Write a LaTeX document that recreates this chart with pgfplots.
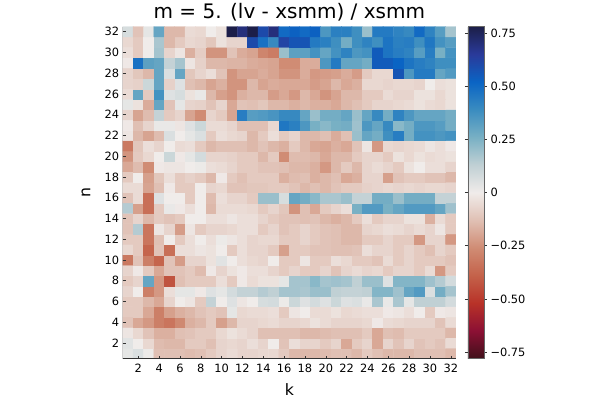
\documentclass[border=0pt]{standalone}
\usepackage{pgfplots}
\pgfplotsset{compat=1.18}
\usepackage{fontspec}
\setmainfont{DejaVu Sans}
\pgfplotsset{colormap={balance}{rgb255=(64,16,26) rgb255=(140,16,52) rgb255=(184,50,40) rgb255=(196,98,74) rgb255=(208,140,116) rgb255=(224,192,180) rgb255=(240,236,234) rgb255=(192,208,212) rgb255=(120,176,196) rgb255=(58,140,192) rgb255=(10,100,196) rgb255=(42,58,154) rgb255=(28,30,72)}}
\begin{document}
\begin{tikzpicture}
\useasboundingbox (-122.7pt,-41.5pt) rectangle (477.3pt,358.5pt);
\begin{axis}[
  at={(0pt,0pt)}, anchor=south west,
  scale only axis, width=333.3pt, height=332pt,
  xmin=0.5, xmax=32.5, ymin=0.5, ymax=32.5,
  axis on top,
  axis line style={draw=none},
  tick pos=left,
  tick align=inside, major tick length=3pt,
  tick style={draw=black!80, line width=0.5pt},
  xtick={2,4,...,32}, ytick={2,4,...,32},
  /pgf/number format/assume math mode=true,
  ticklabel style={font=\fontsize{11.4}{13}\selectfont},
  xticklabel style={yshift=-2pt},
  xlabel={k}, ylabel={n},
  label style={font=\fontsize{15.7}{18}\selectfont},
  xlabel style={at={(axis description cs:0.5,0)}, anchor=center, yshift=-31pt},
  ylabel style={at={(axis description cs:0,0.5)}, anchor=center, yshift=36.7pt},
  title={m = 5. (lv - xsmm) / xsmm},
  title style={font=\fontsize{20}{24}\selectfont, at={(axis description cs:0.5,1)}, anchor=base, yshift=2.5pt},
  colormap name=balance,
  point meta min=-0.78, point meta max=0.78,
  colorbar,
  colorbar/width=16pt,
  colorbar shift/.style={xshift=12pt},
  colorbar style={
    at={(parent axis.south east)}, anchor=south west,
    scale only axis, width=16pt, height=332pt,
    ytick={-0.75,-0.5,-0.25,0,0.25,0.5,0.75},
    yticklabels={−0.75,−0.50,−0.25,0,0.25,0.50,0.75},
    tick align=outside, major tick length=3pt,
    yticklabel style={font=\fontsize{11.4}{13}\selectfont},
    axis line style={draw=black!60, line width=0.5pt},
  },
]
\addplot[matrix plot*, mesh/cols=32, mesh/ordering=x varies, point meta=explicit]
table[header=false, row sep=\\, x expr={\coordindex-32*floor((\coordindex+0.5)/32)+1}, y expr={floor((\coordindex+0.5)/32)+1}, meta index=0] {
0.03\\ 0.06\\ 0.01\\ -0.13\\ -0.13\\ -0.13\\ -0.14\\ -0.13\\ -0.10\\ -0.07\\ -0.05\\ -0.07\\ -0.07\\ -0.06\\ -0.06\\ -0.10\\ -0.15\\ -0.15\\ -0.15\\ -0.14\\ -0.13\\ -0.13\\ -0.15\\ -0.10\\ -0.13\\ -0.15\\ -0.15\\ -0.15\\ -0.13\\ -0.13\\ -0.13\\ -0.15\\
0.04\\ 0\\ -0.06\\ -0.14\\ -0.15\\ -0.15\\ -0.10\\ -0.10\\ -0.13\\ -0.07\\ -0.06\\ -0.07\\ -0.04\\ -0.07\\ 0\\ -0.12\\ -0.04\\ -0.07\\ -0.07\\ -0.10\\ -0.07\\ -0.19\\ -0.10\\ -0.07\\ -0.19\\ -0.07\\ -0.12\\ -0.07\\ -0.12\\ -0.10\\ -0.12\\ -0.05\\
-0.02\\ -0.06\\ -0.12\\ -0.17\\ -0.17\\ -0.13\\ -0.12\\ -0.10\\ -0.10\\ -0.06\\ -0.03\\ -0.05\\ -0.07\\ -0.13\\ -0.13\\ -0.13\\ -0.13\\ -0.15\\ -0.15\\ -0.14\\ -0.13\\ -0.13\\ -0.13\\ -0.10\\ -0.19\\ -0.13\\ -0.14\\ -0.10\\ -0.10\\ -0.10\\ -0.10\\ -0.15\\
-0.12\\ -0.19\\ -0.23\\ -0.30\\ -0.33\\ -0.27\\ -0.17\\ -0.15\\ -0.10\\ -0.21\\ -0.15\\ -0.07\\ -0.07\\ -0.06\\ -0.05\\ -0.07\\ -0.07\\ -0.06\\ -0.03\\ -0.05\\ -0.07\\ -0.07\\ -0.07\\ -0.06\\ -0.01\\ -0.05\\ -0.06\\ -0.07\\ -0.07\\ -0.07\\ -0.12\\ -0.05\\
-0.10\\ -0.10\\ -0.19\\ -0.30\\ -0.21\\ -0.17\\ -0.15\\ -0.12\\ -0.10\\ -0.12\\ 0.03\\ -0.06\\ -0.05\\ -0.05\\ -0.04\\ -0.10\\ -0.02\\ 0\\ -0.05\\ -0.05\\ -0.03\\ -0.06\\ -0.05\\ -0.04\\ -0.04\\ -0.01\\ -0.02\\ -0.04\\ 0\\ -0.10\\ -0.01\\ -0.02\\
-0.10\\ -0.10\\ -0.15\\ -0.19\\ -0.07\\ 0\\ -0.02\\ -0.10\\ 0.12\\ 0\\ 0.05\\ -0.02\\ 0\\ 0.07\\ 0.08\\ 0.01\\ 0.10\\ 0.05\\ 0.08\\ 0.05\\ 0.10\\ 0.05\\ 0.06\\ 0.02\\ 0.17\\ 0.02\\ 0.17\\ 0.03\\ 0.13\\ 0.13\\ 0.13\\ 0.08\\
-0.07\\ 0\\ -0.30\\ -0.23\\ -0.04\\ 0.03\\ 0.03\\ -0.01\\ 0.05\\ 0.03\\ 0.08\\ 0.12\\ 0.12\\ 0.15\\ 0.13\\ 0.18\\ 0.18\\ 0.17\\ 0.20\\ 0.20\\ 0.13\\ 0.12\\ 0.12\\ 0.13\\ 0.24\\ 0.24\\ 0.19\\ 0.30\\ 0.34\\ 0.06\\ 0.27\\ 0.18\\
-0.10\\ -0.07\\ 0.30\\ -0.23\\ -0.43\\ -0.13\\ -0.10\\ -0.10\\ -0.10\\ -0.04\\ -0.10\\ -0.01\\ -0.05\\ -0.03\\ -0.03\\ 0.03\\ 0.18\\ 0.18\\ 0.23\\ 0.18\\ 0.19\\ 0.18\\ 0.13\\ 0.20\\ 0.20\\ 0.05\\ 0.24\\ 0.24\\ 0.24\\ 0.19\\ 0.15\\ 0.08\\
-0.07\\ -0.01\\ -0.10\\ -0.19\\ -0.12\\ -0.12\\ -0.10\\ -0.14\\ -0.01\\ -0.07\\ -0.03\\ -0.01\\ -0.04\\ -0.04\\ -0.07\\ -0.10\\ -0.07\\ -0.10\\ -0.10\\ -0.07\\ -0.12\\ -0.07\\ -0.05\\ -0.07\\ -0.06\\ -0.10\\ -0.07\\ -0.07\\ -0.10\\ -0.05\\ -0.23\\ -0.10\\
-0.32\\ -0.12\\ -0.30\\ -0.38\\ -0.12\\ -0.22\\ -0.07\\ -0.07\\ -0.03\\ 0.04\\ 0\\ -0.04\\ -0.06\\ -0.07\\ 0\\ -0.10\\ -0.10\\ -0.02\\ -0.10\\ -0.10\\ -0.04\\ -0.06\\ -0.10\\ -0.10\\ -0.12\\ -0.05\\ -0.10\\ -0.07\\ -0.10\\ -0.10\\ -0.10\\ -0.12\\
-0.06\\ -0.10\\ -0.38\\ -0.12\\ -0.35\\ -0.04\\ -0.04\\ -0.02\\ -0.03\\ 0\\ -0.10\\ -0.04\\ -0.07\\ -0.07\\ -0.10\\ -0.21\\ -0.10\\ -0.10\\ -0.12\\ -0.12\\ -0.13\\ -0.13\\ -0.12\\ -0.04\\ -0.07\\ -0.07\\ -0.10\\ -0.07\\ -0.10\\ -0.13\\ -0.07\\ -0.10\\
-0.10\\ -0.10\\ -0.33\\ -0.13\\ 0\\ -0.10\\ -0.04\\ 0\\ -0.04\\ 0.01\\ -0.02\\ -0.04\\ -0.07\\ -0.06\\ -0.06\\ -0.10\\ -0.10\\ -0.07\\ -0.10\\ -0.12\\ -0.13\\ -0.15\\ -0.15\\ -0.10\\ -0.10\\ -0.07\\ -0.10\\ -0.10\\ -0.23\\ -0.07\\ -0.07\\ -0.23\\
-0.12\\ 0.15\\ -0.33\\ -0.02\\ -0.07\\ -0.22\\ -0.02\\ -0.10\\ -0.07\\ -0.07\\ -0.06\\ -0.04\\ -0.04\\ -0.10\\ -0.07\\ -0.12\\ -0.10\\ -0.07\\ -0.10\\ -0.12\\ -0.13\\ -0.15\\ -0.15\\ -0.07\\ -0.06\\ -0.04\\ -0.05\\ -0.07\\ -0.05\\ -0.07\\ -0.02\\ -0.10\\
-0.12\\ -0.07\\ -0.15\\ -0.10\\ -0.12\\ -0.10\\ 0\\ 0\\ -0.04\\ -0.04\\ -0.02\\ -0.04\\ -0.04\\ -0.07\\ -0.10\\ -0.12\\ -0.12\\ -0.13\\ -0.12\\ -0.15\\ -0.17\\ -0.15\\ -0.10\\ -0.04\\ -0.10\\ -0.07\\ -0.07\\ -0.03\\ -0.03\\ -0.17\\ -0.05\\ -0.10\\
0.15\\ -0.21\\ -0.35\\ -0.10\\ 0.02\\ -0.01\\ -0.04\\ 0\\ -0.15\\ -0.05\\ -0.05\\ -0.05\\ -0.06\\ -0.10\\ -0.07\\ -0.11\\ -0.24\\ -0.13\\ -0.19\\ -0.10\\ -0.07\\ -0.04\\ 0.26\\ 0.34\\ 0.34\\ 0.26\\ 0.30\\ 0.34\\ 0.34\\ 0.34\\ 0.30\\ 0.19\\
-0.12\\ -0.05\\ -0.35\\ 0.05\\ 0\\ 0\\ -0.10\\ 0\\ -0.14\\ -0.04\\ -0.07\\ -0.07\\ -0.10\\ 0.20\\ 0.20\\ 0.07\\ 0.30\\ 0.27\\ 0.23\\ 0.17\\ 0.17\\ 0.20\\ 0.12\\ 0.12\\ 0.27\\ 0.27\\ 0.20\\ 0.27\\ 0.27\\ 0.27\\ 0.12\\ 0.12\\
-0.05\\ -0.05\\ -0.20\\ -0.13\\ -0.01\\ -0.10\\ -0.10\\ 0\\ -0.07\\ -0.06\\ -0.12\\ -0.12\\ -0.11\\ -0.11\\ -0.10\\ -0.10\\ -0.12\\ -0.15\\ -0.13\\ -0.15\\ -0.12\\ -0.10\\ -0.10\\ -0.08\\ -0.07\\ -0.06\\ -0.07\\ -0.06\\ -0.07\\ -0.06\\ -0.06\\ -0.07\\
-0.10\\ 0\\ -0.21\\ -0.11\\ -0.04\\ -0.10\\ -0.08\\ -0.10\\ -0.15\\ -0.01\\ -0.10\\ -0.13\\ -0.10\\ -0.10\\ -0.10\\ -0.17\\ -0.14\\ -0.13\\ -0.17\\ -0.15\\ -0.13\\ -0.19\\ -0.17\\ -0.07\\ -0.07\\ -0.21\\ -0.12\\ -0.10\\ -0.10\\ -0.12\\ -0.12\\ -0.15\\
-0.19\\ -0.14\\ -0.26\\ -0.01\\ -0.02\\ -0.02\\ 0\\ 0.01\\ -0.04\\ -0.05\\ -0.07\\ -0.10\\ -0.10\\ -0.12\\ -0.12\\ -0.13\\ -0.15\\ -0.15\\ -0.17\\ -0.23\\ -0.15\\ -0.10\\ -0.15\\ -0.07\\ -0.05\\ -0.07\\ -0.10\\ -0.03\\ 0\\ -0.04\\ -0.04\\ -0.07\\
-0.24\\ -0.10\\ -0.06\\ 0\\ 0.10\\ -0.01\\ 0.03\\ 0.08\\ -0.07\\ -0.07\\ -0.08\\ -0.10\\ -0.10\\ -0.15\\ -0.10\\ -0.26\\ -0.14\\ -0.14\\ -0.15\\ -0.19\\ -0.15\\ -0.15\\ -0.10\\ -0.07\\ -0.07\\ -0.10\\ -0.03\\ -0.06\\ -0.03\\ -0.05\\ -0.04\\ -0.03\\
-0.32\\ -0.11\\ -0.04\\ -0.07\\ 0\\ -0.05\\ -0.04\\ -0.10\\ -0.15\\ -0.13\\ -0.13\\ -0.13\\ -0.15\\ -0.12\\ -0.15\\ -0.17\\ -0.10\\ -0.15\\ -0.19\\ -0.20\\ -0.17\\ -0.19\\ -0.12\\ -0.02\\ -0.23\\ -0.06\\ -0.07\\ -0.06\\ -0.05\\ -0.02\\ -0.04\\ -0.01\\
-0.02\\ -0.15\\ -0.20\\ -0.14\\ 0.06\\ 0\\ 0.03\\ 0.06\\ -0.10\\ -0.04\\ -0.06\\ -0.07\\ -0.15\\ -0.10\\ -0.04\\ -0.10\\ -0.07\\ -0.15\\ -0.15\\ -0.13\\ -0.18\\ -0.13\\ 0.20\\ 0.30\\ 0.27\\ 0.38\\ 0.44\\ 0.27\\ 0.37\\ 0.37\\ 0.35\\ 0.37\\
-0.01\\ -0.13\\ -0.07\\ 0.02\\ 0.02\\ -0.02\\ 0.05\\ 0.10\\ -0.05\\ -0.05\\ -0.07\\ -0.13\\ -0.13\\ -0.13\\ -0.06\\ 0.46\\ 0.43\\ 0.35\\ 0.26\\ 0.23\\ 0.26\\ 0.27\\ 0.19\\ 0.35\\ 0.30\\ 0.40\\ 0.23\\ 0.27\\ 0.35\\ 0.35\\ 0.33\\ 0.27\\
-0.07\\ -0.20\\ -0.14\\ 0.12\\ -0.10\\ -0.07\\ -0.20\\ -0.26\\ -0.07\\ -0.10\\ -0.20\\ 0.44\\ 0.33\\ 0.34\\ 0.36\\ 0.40\\ 0.40\\ 0.30\\ 0.20\\ 0.27\\ 0.27\\ 0.30\\ 0.20\\ 0.30\\ 0.40\\ 0.27\\ 0.42\\ 0.35\\ 0.30\\ 0.30\\ 0.30\\ 0.27\\
0.03\\ -0.03\\ -0.18\\ 0.30\\ -0.12\\ 0.03\\ -0.07\\ -0.08\\ -0.12\\ -0.07\\ -0.19\\ -0.12\\ -0.13\\ -0.11\\ -0.15\\ -0.15\\ -0.17\\ -0.15\\ -0.17\\ -0.17\\ -0.19\\ -0.15\\ -0.13\\ -0.10\\ -0.07\\ -0.07\\ -0.06\\ -0.05\\ -0.03\\ -0.05\\ -0.06\\ -0.03\\
-0.05\\ 0.30\\ -0.10\\ 0.37\\ 0.05\\ 0.07\\ -0.03\\ 0.02\\ -0.15\\ -0.21\\ -0.24\\ -0.17\\ -0.15\\ -0.15\\ -0.22\\ -0.19\\ -0.23\\ -0.15\\ -0.19\\ -0.24\\ -0.20\\ -0.15\\ -0.15\\ -0.10\\ -0.10\\ -0.05\\ -0.07\\ -0.07\\ -0.03\\ -0.03\\ -0.06\\ -0.03\\
-0.07\\ -0.08\\ 0.10\\ 0.30\\ -0.08\\ 0.05\\ -0.13\\ -0.15\\ -0.20\\ -0.17\\ -0.24\\ -0.24\\ -0.15\\ -0.20\\ -0.18\\ -0.19\\ -0.19\\ -0.19\\ -0.22\\ -0.20\\ -0.15\\ -0.19\\ -0.17\\ -0.06\\ -0.06\\ -0.07\\ -0.06\\ -0.06\\ -0.07\\ 0\\ -0.04\\ -0.03\\
-0.07\\ -0.11\\ -0.15\\ 0.30\\ 0.06\\ 0.30\\ -0.11\\ -0.07\\ -0.04\\ -0.12\\ -0.24\\ -0.20\\ -0.20\\ -0.18\\ -0.20\\ -0.24\\ -0.24\\ -0.18\\ -0.23\\ -0.22\\ -0.21\\ -0.18\\ -0.22\\ -0.10\\ -0.06\\ -0.06\\ 0.57\\ 0.35\\ 0.45\\ 0.45\\ 0.30\\ 0.34\\
-0.01\\ 0.48\\ 0.32\\ 0.30\\ 0.12\\ 0.18\\ -0.02\\ -0.08\\ -0.15\\ -0.15\\ -0.16\\ -0.16\\ -0.18\\ -0.19\\ -0.20\\ -0.26\\ -0.26\\ -0.18\\ -0.18\\ 0.35\\ 0.45\\ 0.30\\ 0.30\\ 0.27\\ 0.55\\ 0.55\\ 0.52\\ 0.47\\ 0.44\\ 0.42\\ 0.38\\ 0.38\\
-0.04\\ -0.10\\ 0\\ 0.18\\ -0.07\\ -0.02\\ -0.17\\ -0.09\\ -0.24\\ -0.24\\ -0.12\\ -0.18\\ -0.20\\ -0.28\\ -0.31\\ 0.20\\ 0.32\\ 0.32\\ 0.37\\ 0.30\\ 0.37\\ 0.42\\ 0.35\\ 0.37\\ 0.55\\ 0.47\\ 0.44\\ 0.42\\ 0.33\\ 0.44\\ 0.26\\ 0.37\\
-0.06\\ -0.10\\ 0\\ 0.17\\ -0.15\\ -0.10\\ -0.06\\ -0.07\\ -0.11\\ -0.03\\ -0.07\\ -0.07\\ 0.60\\ 0.48\\ 0.40\\ 0.62\\ 0.57\\ 0.57\\ 0.45\\ 0.43\\ 0.38\\ 0.27\\ 0.38\\ 0.42\\ 0.38\\ 0.47\\ 0.43\\ 0.44\\ 0.38\\ 0.46\\ 0.37\\ 0.33\\
0.07\\ -0.12\\ 0.03\\ 0.30\\ -0.15\\ -0.15\\ -0.05\\ -0.06\\ 0\\ -0.03\\ 0.78\\ 0.70\\ 0.78\\ 0.60\\ 0.70\\ 0.50\\ 0.53\\ 0.50\\ 0.53\\ 0.35\\ 0.43\\ 0.43\\ 0.38\\ 0.20\\ 0.45\\ 0.45\\ 0.42\\ 0.40\\ 0.50\\ 0.42\\ 0.33\\ 0.18\\
};
\draw[black!40, line width=0.8pt] (rel axis cs:0,0) -- (rel axis cs:0,1);
\draw[black!80, line width=0.6pt] (rel axis cs:0,0) -- (rel axis cs:1,0);
\end{axis}
\end{tikzpicture}
\end{document}
